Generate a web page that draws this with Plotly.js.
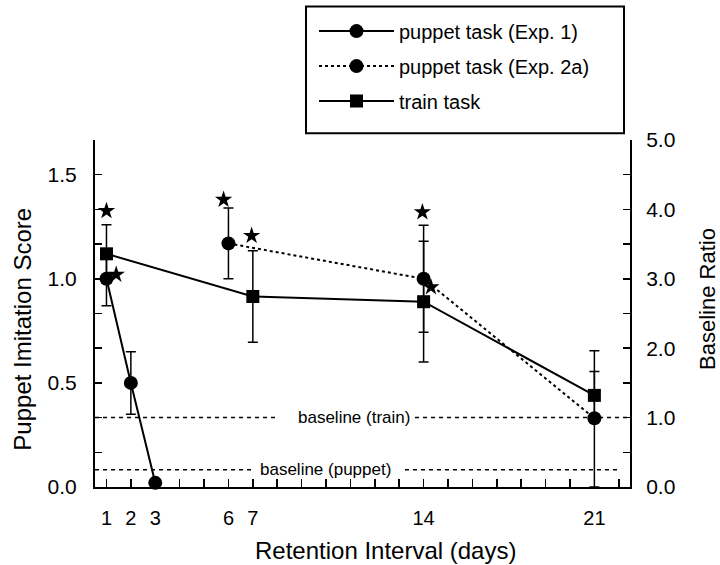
<!DOCTYPE html>
<html><head><meta charset="utf-8">
<script src="https://cdn.plot.ly/plotly-3.0.1.min.js"></script>
<style>html,body{margin:0;padding:0;background:#fff}#c{width:720px;height:565px}</style>
</head><body><div id="c"></div>
<script>
// ---- data ----
const xTickVals = [1,2,3,4,5,6,7,8,9,10,11,12,13,14,15,16,17,18,19,20,21,22];
const xTickLabels = ["1","2","3","","","6","7","","","","","","","14","","","","","","","21",""];
const exp1Days = [1, 2, 3];
const exp1Score = [1.0, 0.5, 0.02];
const exp1Err = [0.13, 0.15, 0];
const exp2Days = [6, 14, 21];
const exp2Score = [1.17, 1.0, 0.33];
const exp2ErrPlus = [0.17, 0.257, 0.325];
const exp2ErrMinus = [0.17, 0.257, 0.33];
const trainDays = [1, 7, 14, 21];
const trainScore = [1.12, 0.915, 0.89, 0.44];
const trainErr = [0.14, 0.22, 0.29, 0.115];
const starDays = [1, 1.4, 5.8, 6.95, 13.95, 14.3];
const starScores = [1.326, 1.02, 1.38, 1.207, 1.32, 0.96];
const baselineTrain = 1/3;   // score units (= ratio 1.0)
const baselinePuppet = 0.083;
const leftTickVals = [0,1/6,2/6,3/6,4/6,5/6,1,7/6,8/6,9/6,10/6];
const leftTickLabels = ["0.0","","","0.5","","","1.0","","","1.5",""];
const rightTickVals = [0,0.5,1,1.5,2,2.5,3,3.5,4,4.5,5];
const rightTickLabels = ["0.0","","1.0","","2.0","","3.0","","4.0","","5.0"];

const FONT = "Liberation Sans, Arial, Helvetica, sans-serif";
const errStyle = {type:'data', color:'#000', thickness:1.5, width:5};

const traces = [
  {x: exp1Days, y: exp1Score, name: 'puppet task (Exp. 1)', mode: 'lines+markers', legendgroup:'a',
   line:{color:'#000', width:2}, marker:{symbol:'circle', size:14, color:'#000'},
   error_y: Object.assign({array: exp1Err, visible:true}, errStyle), cliponaxis:false},
  {x: exp2Days, y: exp2Score, name: 'puppet task (Exp. 2a)', mode: 'lines+markers', legendgroup:'b',
   line:{color:'#000', width:2, dash:'dot'}, marker:{symbol:'circle', size:14, color:'#000'},
   error_y: Object.assign({array: exp2ErrPlus, arrayminus: exp2ErrMinus, symmetric:false, visible:true}, errStyle), cliponaxis:false},
  {x: trainDays, y: trainScore, name: 'train task', mode: 'lines+markers', legendgroup:'c',
   line:{color:'#000', width:2}, marker:{symbol:'square', size:13, color:'#000'},
   error_y: Object.assign({array: trainErr, visible:true}, errStyle), cliponaxis:false},
  {x: starDays, y: starScores, mode:'markers', showlegend:false, hoverinfo:'skip',
   marker:{symbol:'star', size:13, color:'#000'}, cliponaxis:false},
  {x: [1], y: [0], yaxis:'y2', mode:'markers', showlegend:false, hoverinfo:'skip', marker:{opacity:0}}
];

const axisCommon = {showline:true, linecolor:'#000', linewidth:2, ticks:'inside', tickcolor:'#000',
  tickwidth:1.5, showgrid:false, zeroline:false, tickfont:{family:FONT, size:21, color:'#000'}, fixedrange:true};

function px2x(p){ return (p-95)/535; }
function px2y(p){ return (486.7-p)/350; }
const dash = {color:'#000', width:1.5, dash:'4px,4px'};

const layout = {
  width:720, height:565, margin:{l:95, r:90, t:137, b:78},
  paper_bgcolor:'#fff', plot_bgcolor:'#fff', font:{family:FONT, color:'#000'},
  showlegend:true,
  legend:{x:px2x(314), xanchor:'left', y:1.37, yanchor:'top', bgcolor:'rgba(0,0,0,0)', borderwidth:0,
    font:{family:FONT, size:20, color:'#000'}, tracegroupgap:6, itemwidth:75},
  xaxis: Object.assign({}, axisCommon, {range:[0.53, 22.46], tickmode:'array', tickvals:xTickVals, ticktext:xTickLabels,
    ticklen:8, ticklabelstandoff:12, tickfont:{family:FONT, size:20, color:'#000'}}),
  yaxis: Object.assign({}, axisCommon, {range:[0, 5/3], tickmode:'array', tickvals:leftTickVals, ticktext:leftTickLabels,
    ticklen:7, ticklabelstandoff:12}),
  yaxis2: Object.assign({}, axisCommon, {overlaying:'y', side:'right', anchor:'x', range:[0,5], tickmode:'array',
    tickvals:rightTickVals, ticktext:rightTickLabels, ticklen:7, ticklabelstandoff:10}),
  shapes:[
    {type:'line', xref:'paper', x0:0, x1:px2x(277), yref:'y', y0:baselineTrain, y1:baselineTrain, layer:'below', line:dash},
    {type:'line', xref:'paper', x0:px2x(415), x1:1, yref:'y', y0:baselineTrain, y1:baselineTrain, layer:'below', line:dash},
    {type:'line', xref:'paper', x0:0, x1:px2x(252), yref:'y', y0:baselinePuppet, y1:baselinePuppet, layer:'below', line:dash},
    {type:'line', xref:'paper', x0:px2x(405), x1:px2x(620), yref:'y', y0:baselinePuppet, y1:baselinePuppet, layer:'below', line:dash},
    {type:'rect', xref:'paper', yref:'paper', x0:px2x(306), x1:px2x(624), y0:px2y(130), y1:px2y(2),
     line:{color:'#000', width:2}, fillcolor:'rgba(0,0,0,0)'}
  ],
  annotations:[
    {x:px2x(354), y:baselineTrain, xref:'paper', yref:'y', text:'baseline (train)', showarrow:false,
     xanchor:'center', yanchor:'middle', font:{family:FONT, size:17, color:'#000'}},
    {x:px2x(325), y:baselinePuppet, xref:'paper', yref:'y', text:'baseline (puppet)', showarrow:false,
     xanchor:'center', yanchor:'middle', font:{family:FONT, size:17, color:'#000'}},
    {x:px2x(23), y:px2y(328), xref:'paper', yref:'paper', text:'Puppet Imitation Score', textangle:-90, showarrow:false,
     xanchor:'center', yanchor:'middle', font:{family:FONT, size:24, color:'#000'}},
    {x:px2x(708), y:px2y(297), xref:'paper', yref:'paper', text:'Baseline Ratio', textangle:-90, showarrow:false,
     xanchor:'center', yanchor:'middle', font:{family:FONT, size:22, color:'#000'}},
    {x:px2x(385), y:px2y(551), xref:'paper', yref:'paper', text:'Retention Interval (days)', showarrow:false,
     xanchor:'center', yanchor:'middle', font:{family:FONT, size:24, color:'#000'}}
  ]
};

Plotly.newPlot('c', traces, layout, {displayModeBar:false, staticPlot:true});
</script></body></html>
